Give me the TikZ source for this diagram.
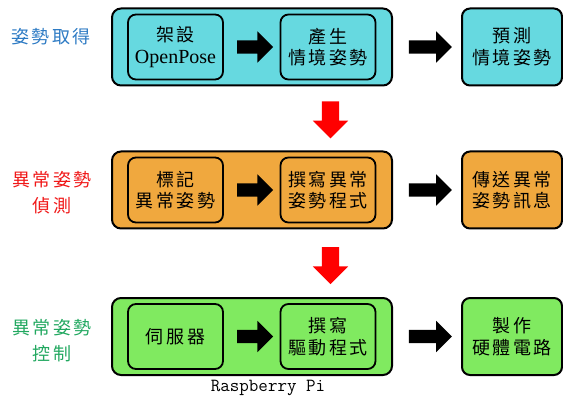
\documentclass[tikz,border=0pt]{standalone}
\usepackage{fontspec}
\setmainfont{Liberation Serif}
\newfontfamily\cjk[LetterSpace=14]{Noto Sans CJK TC}
\usetikzlibrary{shapes.arrows,calc}

\definecolor{fillblue}{HTML}{66D9E0}
\definecolor{fillorange}{HTML}{F0A83E}
\definecolor{fillgreen}{HTML}{80EA60}
\definecolor{textblue}{HTML}{2E7BC4}
\definecolor{textred}{HTML}{F01818}
\definecolor{textgreen}{HTML}{22A860}

\tikzset{
  groupbox/.style={draw=black, line width=2pt, rounded corners=9pt,
    minimum width=280pt, minimum height=77pt, inner sep=0pt},
  stepbox/.style={draw=black, line width=1.8pt, rounded corners=8pt,
    minimum width=95pt, minimum height=65pt, inner sep=0pt, align=center,
    font=\cjk\fontsize{18}{21.5}\selectfont},
  resultbox/.style={stepbox, line width=2pt, minimum width=100pt, minimum height=77pt},
  rowlabel/.style={align=center, font=\cjk\fontsize{18}{26}\selectfont},
  flowarrow/.style={single arrow, fill=black, draw=none, inner sep=6.5pt,
    single arrow head extend=9pt, single arrow tip angle=90,
    single arrow head indent=0pt, minimum width=31pt},
  downarrow/.style={single arrow, fill=red, draw=none, inner sep=8.5pt,
    shape border rotate=270, single arrow head extend=9pt,
    single arrow tip angle=90, single arrow head indent=0pt,
    minimum width=35pt, minimum height=37pt}
}

\begin{document}
\begin{tikzpicture}[x=1pt,y=-1pt]
\useasboundingbox (0,0) rectangle (563,401);

% stage 1: pose acquisition
\node[groupbox, fill=fillblue] (g1) at (252,47) {};
\node[stepbox] (a1) at (175.5,47) {架設\\{\rmfamily\fontsize{20}{24}\selectfont OpenPose}};
\node[stepbox] (a2) at (328,47) {產生\\情境姿勢};
\node[resultbox, fill=fillblue] (a3) at (512,47) {預測\\情境姿勢};
\node[rowlabel, text=textblue] (l1) at (51,37) {姿勢取得};

% stage 2: abnormal pose detection
\node[groupbox, fill=fillorange] (g2) at (252,190) {};
\node[stepbox] (b1) at (175.5,190) {標記\\異常姿勢};
\node[stepbox] (b2) at (328,190) {撰寫異常\\姿勢程式};
\node[resultbox, fill=fillorange] (b3) at (512,190) {傳送異常\\姿勢訊息};
\node[rowlabel, text=textred] (l2) at (52,193) {異常姿勢\\偵測};

% stage 3: abnormal pose control
\node[groupbox, fill=fillgreen] (g3) at (252,336.5) {};
\node[stepbox] (c1) at (175.5,336.5) {伺服器};
\node[stepbox] (c2) at (328,336.5) {撰寫\\驅動程式};
\node[resultbox, fill=fillgreen] (c3) at (512,336.5) {製作\\硬體電路};
\node[rowlabel, text=textgreen] (l3) at (52,340.5) {異常姿勢\\控制};

\node[font=\ttfamily\fontsize{18.5}{22}\selectfont] (rpi) at (268,388) {Raspberry Pi};

% horizontal block arrows
\foreach \p/\q in {a1/a2,b1/b2,c1/c2}
  \node[flowarrow, minimum height=36pt] at ($(\p.east)!0.5!(\q.west)$) {};
\foreach \p/\q in {g1/a3,g2/b3,g3/c3}
  \node[flowarrow, minimum height=43pt] at ($(\p.east)!0.5!(\q.west)$) {};

% vertical arrows between stages
\node[downarrow] at ($(a2.south)!0.5!(b2.north)+(2.5,-3)$) {};
\node[downarrow] at ($(b2.south)!0.5!(c2.north)+(2.5,-2)$) {};
\end{tikzpicture}
\end{document}
